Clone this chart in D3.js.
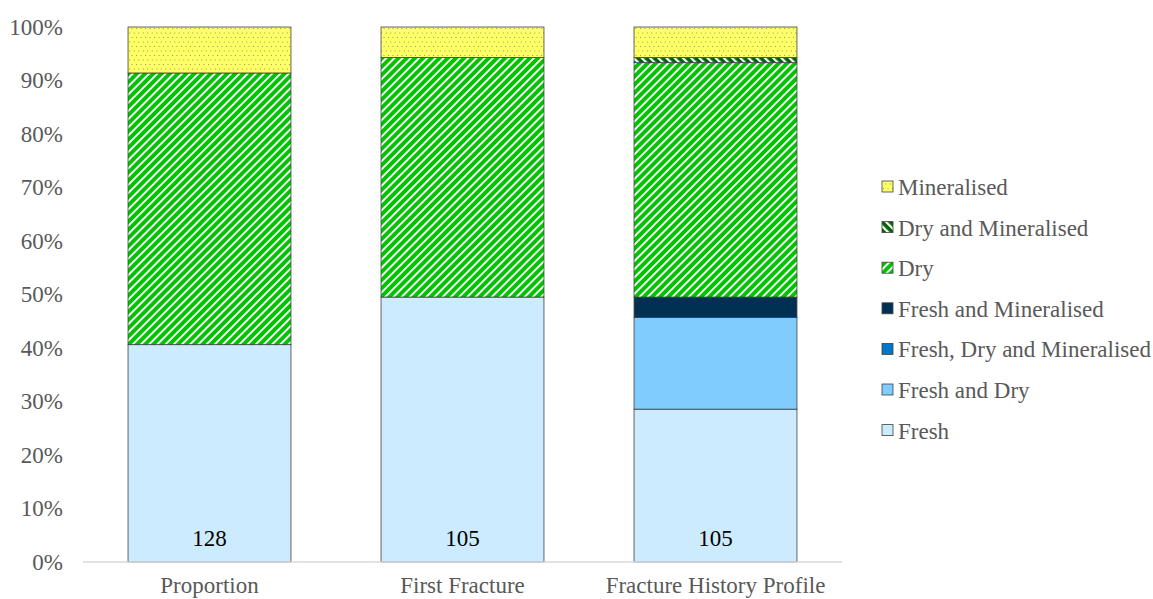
<!DOCTYPE html>
<html>
<head>
<meta charset="utf-8">
<script src="https://cdn.jsdelivr.net/npm/d3@7"></script>
<style>
  html, body { margin: 0; padding: 0; background: #fff; }
  svg { display: block; }
</style>
</head>
<body>
<svg id="chart" width="1153" height="599"></svg>
<script>
// Categories along the x axis
const categories = ["Proportion", "First Fracture", "Fracture History Profile"];

// Counts per fracture state for each category (stack order bottom to top)
const fresh                 = [52, 52, 30];
const freshAndDry           = [0, 0, 18];
const freshDryMineralised   = [0, 0, 0];
const freshAndMineralised   = [0, 0, 4];
const dry                   = [65, 47, 46];
const dryAndMineralised     = [0, 0, 1];
const mineralised           = [11, 6, 6];

// Totals written on each bar
const totals = [128, 105, 105];

const seriesNames = [
  "Fresh", "Fresh and Dry", "Fresh, Dry and Mineralised",
  "Fresh and Mineralised", "Dry", "Dry and Mineralised", "Mineralised"
];
const seriesValues = [
  fresh, freshAndDry, freshDryMineralised,
  freshAndMineralised, dry, dryAndMineralised, mineralised
];

const yTicks = [0, 0.1, 0.2, 0.3, 0.4, 0.5, 0.6, 0.7, 0.8, 0.9, 1.0];

const svg = d3.select("#chart");
const defs = svg.append("defs");

// Fill patterns
function stripes(id, bg, angle, period, whiteW) {
  const p = defs.append("pattern")
    .attr("id", id).attr("patternUnits", "userSpaceOnUse")
    .attr("width", period).attr("height", period)
    .attr("patternTransform", `rotate(${angle})`);
  p.append("rect").attr("width", period).attr("height", period).attr("fill", bg);
  p.append("rect").attr("x", 0).attr("y", 0).attr("width", whiteW).attr("height", period).attr("fill", "#ffffff");
}
stripes("pDry", "#00c400", 45, 5.8, 1.9);
stripes("pDryMin", "#006400", -45, 5.8, 2.2);

const dots = defs.append("pattern")
  .attr("id", "pMin").attr("patternUnits", "userSpaceOnUse")
  .attr("width", 9).attr("height", 9);
dots.append("rect").attr("width", 9).attr("height", 9).attr("fill", "#ffff66");
[[1, 1], [5.5, 1], [3.25, 5.5], [7.75, 5.5]].forEach(([x, y]) =>
  dots.append("rect").attr("x", x).attr("y", y).attr("width", 1).attr("height", 1).attr("fill", "#9a9a70"));

const fills = {
  "Fresh": "#cdebff",
  "Fresh and Dry": "#80ccff",
  "Fresh, Dry and Mineralised": "#0077c8",
  "Fresh and Mineralised": "#003152",
  "Dry": "url(#pDry)",
  "Dry and Mineralised": "url(#pDryMin)",
  "Mineralised": "url(#pMin)"
};

// Table of proportions per category
const table = categories.map((c, i) => {
  const row = { category: c };
  seriesNames.forEach((s, k) => { row[s] = seriesValues[k][i] / totals[i]; });
  return row;
});
const stacked = d3.stack().keys(seriesNames)(table);

const plot = { left: 83, right: 842, top: 27, bottom: 562 };

const x = d3.scaleBand().domain(categories)
  .range([plot.left, plot.right]).paddingInner(0.356).paddingOuter(0.178);
const y = d3.scaleLinear().domain([0, 1]).range([plot.bottom, plot.top]);

const font = "'Liberation Serif', 'Times New Roman', serif";
const fs = 23;

// Bars
const g = svg.append("g");
stacked.forEach(layer => {
  g.append("g").selectAll("rect")
    .data(layer.filter(d => d[1] - d[0] > 0))
    .join("rect")
    .attr("x", d => x(d.data.category))
    .attr("width", x.bandwidth())
    .attr("y", d => y(d[1]))
    .attr("height", d => y(d[0]) - y(d[1]))
    .attr("fill", fills[layer.key])
    .attr("stroke", "#404040")
    .attr("stroke-width", 0.8);
});

// Y axis (labels only)
const yAxis = d3.axisLeft(y).tickValues(yTicks).tickFormat(d3.format(".0%")).tickSize(0).tickPadding(0);
const ya = svg.append("g").attr("transform", `translate(63,0)`).call(yAxis);
ya.select(".domain").remove();
ya.selectAll("text").attr("font-family", font).attr("font-size", fs).attr("fill", "#595959");

// X axis
const xAxis = d3.axisBottom(x).tickSize(0);
const xa = svg.append("g").attr("transform", `translate(0,${plot.bottom})`).call(xAxis);
xa.select(".domain").attr("stroke", "#d9d9d9").attr("stroke-width", 1.5)
  .attr("d", `M${plot.left},0H${plot.right}`);
xa.selectAll("text").attr("dy", null).attr("y", 31)
  .attr("font-family", font).attr("font-size", fs).attr("fill", "#595959");

// Totals written inside each bar
svg.append("g").selectAll("text")
  .data(categories)
  .join("text")
  .attr("x", d => x(d) + x.bandwidth() / 2)
  .attr("y", 546)
  .attr("text-anchor", "middle")
  .attr("font-family", font).attr("font-size", fs).attr("fill", "#000")
  .text((d, i) => totals[i]);

// Legend (top item is the top of the stack)
const legendItems = seriesNames.slice().reverse();
const lg = svg.append("g").attr("transform", "translate(882,187)");
legendItems.forEach((name, i) => {
  const row = lg.append("g").attr("transform", `translate(0,${i * 40.6})`);
  row.append("rect").attr("x", 0).attr("y", -6).attr("width", 11).attr("height", 11)
    .attr("fill", fills[name]).attr("stroke", "#404040").attr("stroke-width", 0.8);
  row.append("text").attr("x", 16).attr("y", 8)
    .attr("font-family", font).attr("font-size", fs).attr("fill", "#595959").text(name);
});
</script>
</body>
</html>
